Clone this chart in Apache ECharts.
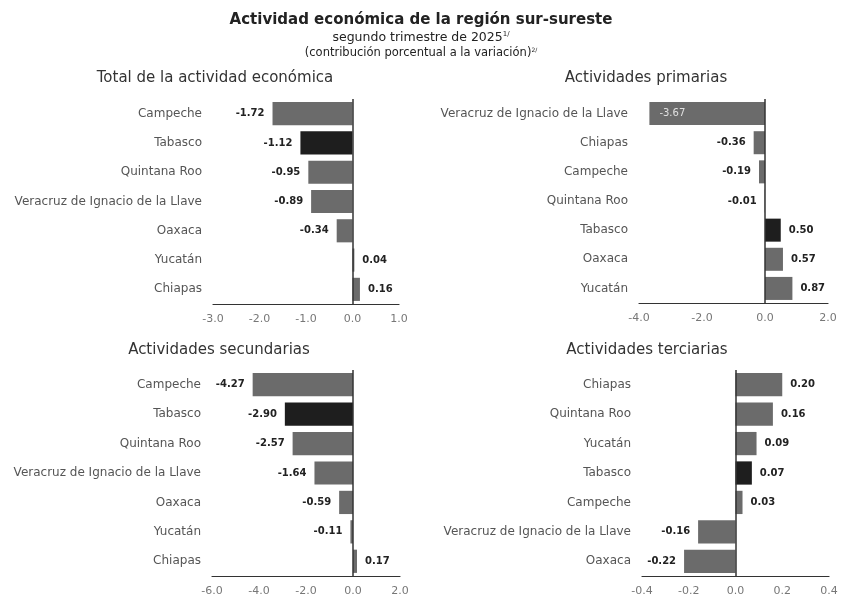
<!DOCTYPE html>
<html><head><meta charset="utf-8">
<script src="https://cdn.jsdelivr.net/npm/echarts@6/dist/echarts.min.js"></script>
<style>html,body{margin:0;padding:0;background:#fff}#c{width:842px;height:601px}</style>
</head><body><div id="c"></div>
<script>
// ---- Data ----
const totalCats = ['Campeche','Tabasco','Quintana Roo','Veracruz de Ignacio de la Llave','Oaxaca','Yucatán','Chiapas'];
const totalVals = [-1.72,-1.12,-0.95,-0.89,-0.34,0.04,0.16];
const primCats = ['Veracruz de Ignacio de la Llave','Chiapas','Campeche','Quintana Roo','Tabasco','Oaxaca','Yucatán'];
const primVals = [-3.67,-0.36,-0.19,-0.01,0.50,0.57,0.87];
const secCats = ['Campeche','Tabasco','Quintana Roo','Veracruz de Ignacio de la Llave','Oaxaca','Yucatán','Chiapas'];
const secVals = [-4.27,-2.90,-2.57,-1.64,-0.59,-0.11,0.17];
const terCats = ['Chiapas','Quintana Roo','Yucatán','Tabasco','Campeche','Veracruz de Ignacio de la Llave','Oaxaca'];
const terVals = [0.20,0.16,0.09,0.07,0.03,-0.16,-0.22];
const panelTitles = ['Total de la actividad económica','Actividades primarias','Actividades secundarias','Actividades terciarias'];
const xMins = [-3,-4,-6,-0.4];
const xMaxs = [1,2,2,0.4];
const xSteps = [1,2,2,0.2];
const highlight = 'Tabasco';

const FONT = 'DejaVu Sans, Verdana, sans-serif';
const panels = [
  {cats: totalCats, vals: totalVals, grid:{left:213,width:186,top:99,height:205}},
  {cats: primCats, vals: primVals, grid:{left:639,width:189,top:99,height:204}},
  {cats: secCats, vals: secVals, grid:{left:212,width:188,top:370,height:206}},
  {cats: terCats, vals: terVals, grid:{left:642,width:187,top:370,height:206}}
];

const grids=[], xAxes=[], yAxes=[], series=[];
panels.forEach((p,i)=>{
  grids.push(Object.assign({containLabel:false}, p.grid));
  xAxes.push({type:'value', gridIndex:i, min:xMins[i], max:xMaxs[i], interval:xSteps[i],
    splitLine:{show:false}, axisTick:{show:false},
    axisLine:{show:true, onZero:false, lineStyle:{color:'#333', width:1.2}},
    axisLabel:{fontFamily:FONT, fontSize:11, color:'#777', margin:10,
      formatter:v=>v.toFixed(1)}});
  yAxes.push({type:'category', gridIndex:i, data:p.cats, inverse:true,
    axisLine:{show:false}, axisTick:{show:false},
    axisLabel:{fontFamily:FONT, fontSize:12, color:'#555', margin:11}});
  series.push({type:'bar', xAxisIndex:i, yAxisIndex:i, barCategoryGap:'21%',
    data:p.vals.map((v,j)=>{
      const d={value:v, itemStyle:{color: p.cats[j]===highlight?'#1e1e1e':'#6b6b6b'}};
      if (v < -2 && i===1) {
        d.label={position:'insideLeft', color:'#e0e0e0', fontWeight:'normal', distance:10};
      } else {
        d.label={position: v<0?'left':'right'};
      }
      return d;
    }),
    label:{show:true, fontFamily:FONT, fontSize:10, fontWeight:'bold', color:'#222', distance:8,
      formatter:o=>o.value.toFixed(2)},
    markLine:{silent:true, symbol:'none', label:{show:false},
      lineStyle:{color:'#333', type:'solid', width:1.5},
      data:[{xAxis:0}]}
  });
});

const titles = [
  {text:'Actividad económica de la región sur-sureste', left:'center', top:8,
   textStyle:{fontFamily:FONT, fontSize:15, fontWeight:'bold', color:'#222'}},
  {text:'segundo trimestre de 2025{s|1/}', left:'center', top:26,
   textStyle:{fontFamily:FONT, fontSize:12.5, fontWeight:'normal', color:'#222',
     rich:{s:{fontFamily:FONT, fontSize:7, padding:[0,0,7,0], color:'#222'}}}},
  {text:'(contribución porcentual a la variación){s|2/}', left:'center', top:42,
   textStyle:{fontFamily:FONT, fontSize:11.5, fontWeight:'normal', color:'#222',
     rich:{s:{fontFamily:FONT, fontSize:6, padding:[0,0,6,0], color:'#222'}}}},
  {text:panelTitles[0], left:210, top:66, textAlign:'center', textStyle:{fontFamily:FONT, fontSize:15, fontWeight:'normal', color:'#333'}},
  {text:panelTitles[1], left:641, top:66, textAlign:'center', textStyle:{fontFamily:FONT, fontSize:15, fontWeight:'normal', color:'#333'}},
  {text:panelTitles[2], left:214, top:338, textAlign:'center', textStyle:{fontFamily:FONT, fontSize:15, fontWeight:'normal', color:'#333'}},
  {text:panelTitles[3], left:642, top:338, textAlign:'center', textStyle:{fontFamily:FONT, fontSize:15, fontWeight:'normal', color:'#333'}}
];

const chart = echarts.init(document.getElementById('c'), null, {renderer:'canvas'});
chart.setOption({backgroundColor:'#fff', animation:false, title:titles,
  grid:grids, xAxis:xAxes, yAxis:yAxes, series:series});
</script></body></html>
